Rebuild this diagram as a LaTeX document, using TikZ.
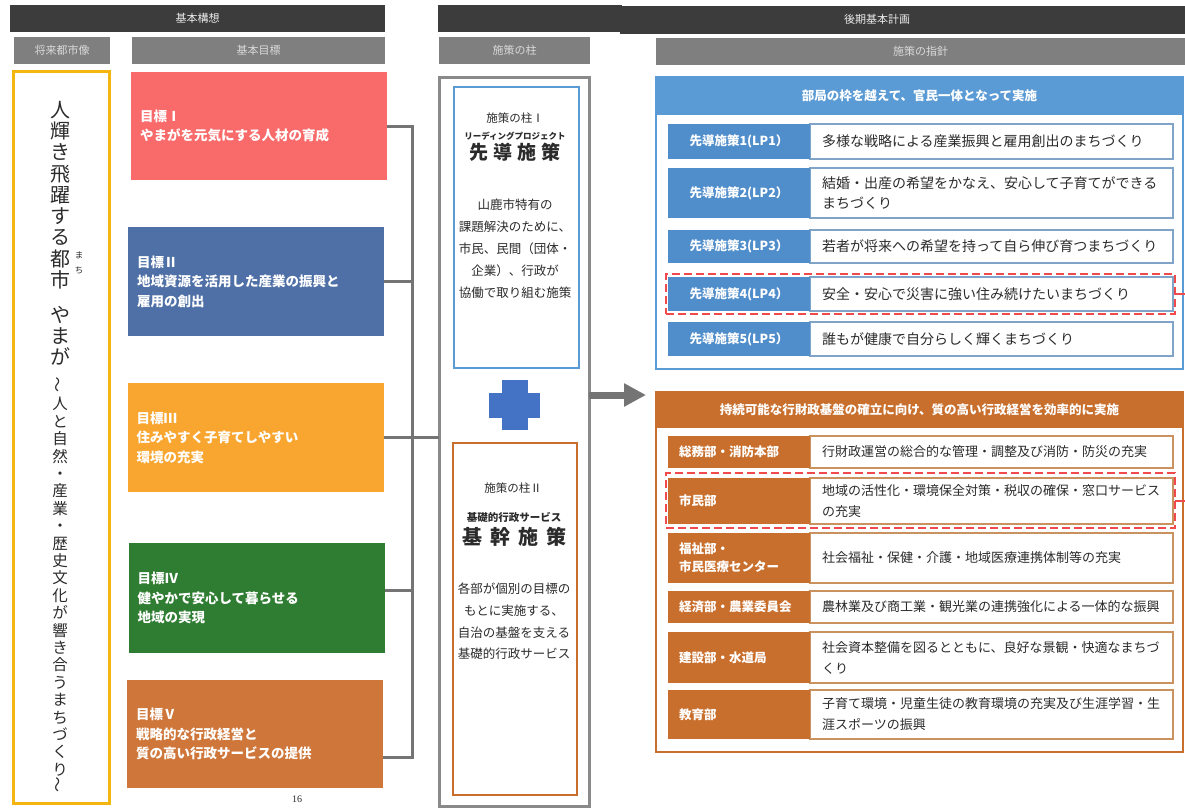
\documentclass[tikz,border=0pt]{standalone}
\usepackage{fontspec}
\setmainfont{Noto Sans CJK JP}
\newfontfamily\serf{Liberation Serif}
\usetikzlibrary{arrows.meta}
\definecolor{darkbar}{HTML}{3C3C3C}
\definecolor{midgray}{HTML}{7F7F7F}
\definecolor{subtext}{HTML}{D9D9D9}
\definecolor{yframe}{HTML}{F5B50F}
\definecolor{gA}{HTML}{F96B6B}
\definecolor{gB}{HTML}{4E70A6}
\definecolor{gC}{HTML}{F9A630}
\definecolor{gD}{HTML}{2F7D32}
\definecolor{gE}{HTML}{CF773A}
\definecolor{conngray}{HTML}{747474}
\definecolor{pillargray}{HTML}{8A8A8A}
\definecolor{bframe}{HTML}{5B9BD5}
\definecolor{blabel}{HTML}{4F8DCB}
\definecolor{browline}{HTML}{7FA4C8}
\definecolor{oframe}{HTML}{C96F2D}
\definecolor{orowline}{HTML}{C9925F}
\definecolor{plusblue}{HTML}{4472C4}
\definecolor{hired}{HTML}{F04A4C}
\definecolor{txt}{HTML}{2B2B2B}
\tikzset{
  hdr/.style={fill=darkbar, text=white!92!black, font=\fontsize{11}{13}\selectfont, minimum height=27pt},
  subhdr/.style={fill=midgray, text=subtext, font=\fontsize{11}{13}\selectfont, minimum height=27pt},
  goalbox/.style={text=white, font=\bfseries\fontsize{13.5}{19.5}\selectfont, align=left, text width=238pt, inner xsep=9pt},
  conn/.style={draw=conngray, line width=3pt},
  vtxt/.style={anchor=north, align=center, text=txt},
  pillartxt/.style={text=txt, align=center},
  blab/.style={fill=blabel, text=white, font=\bfseries\fontsize{12.5}{15}\selectfont, minimum width=142pt, align=center},
  btxt/.style={draw=browline, line width=1.2pt, fill=white, text=txt, font=\fontsize{14}{20}\selectfont, align=left, text width=339pt, inner xsep=12pt, minimum width=363pt},
  olab/.style={fill=oframe, text=white, font=\bfseries\fontsize{12.5}{18}\selectfont, minimum width=142pt, text width=120pt, inner xsep=11pt, align=left},
  otxt/.style={draw=orowline, line width=1.2pt, fill=white, text=txt, font=\fontsize{13}{21}\selectfont, align=left, text width=339pt, inner xsep=12pt, minimum width=363pt},
  hilite/.style={draw=hired, line width=2.5pt, dash pattern=on 8pt off 4pt, minimum width=509pt},
  redstub/.style={draw=hired, line width=2pt},
  bigarrow/.style={draw=conngray, line width=7pt, -{Triangle[length=22pt,width=22pt]}}
}
\begin{document}
\begin{tikzpicture}[x=1pt,y=-1pt,every node/.style={inner sep=0pt,outer sep=0pt}]
\fill[white] (0,0) rectangle (1185,809);
\path[use as bounding box] (0,0) rectangle (1185,809);

% top headers
\node[hdr, minimum width=375pt] (h1) at (197.5,18.5) {基本構想};
\node[subhdr, minimum width=96pt] (s1) at (62,50.5) {将来都市像};
\node[subhdr, minimum width=253pt] (s2) at (258.5,50.5) {基本目標};
\node[hdr, minimum width=184pt] (h2) at (530,18.5) {};
\node[hdr, minimum width=565pt, minimum height=28pt] (h3) at (902.5,20) {};
\node[text=white!92!black, font=\fontsize{11}{13}\selectfont] (h3t) at (877,19.5) {後期基本計画};
\node[subhdr, minimum width=151pt] (s3) at (514.5,50.5) {施策の柱};
\node[subhdr, minimum width=529pt] (s4) at (920.5,51.5) {施策の指針};

% city image frame
\node[draw=yframe, line width=3.5pt, minimum width=96pt, minimum height=732pt] (city) at (61.5,437.5) {};
\node[vtxt, font=\fontsize{20}{21.3}\selectfont] (vt1) at (60,101) {人\\輝\\き\\飛\\躍\\す\\る\\都\\市};
\node[vtxt, font=\fontsize{8.5}{15}\selectfont] (ruby) at (79,252) {ま\\ち};
\node[vtxt, font=\fontsize{20}{21.3}\selectfont] (vt2) at (60,306) {や\\ま\\が};
\node[vtxt, font=\fontsize{15.5}{17.4}\selectfont] (vt3) at (60,377) {\rotatebox{90}{〜}\\人\\と\\自\\然\\・\\産\\業\\・\\歴\\史\\文\\化\\が\\響\\き\\合\\う\\ま\\ち\\づ\\く\\り\\\rotatebox{90}{〜}};

% goals
\node[goalbox, fill=gA, minimum height=108pt] (g1) at (259,126) {目標Ⅰ\\やまがを元気にする人材の育成};
\node[goalbox, fill=gB, minimum height=109pt] (g2) at (256,281.5) {目標Ⅱ\\地域資源を活用した産業の振興と\\雇用の創出};
\node[goalbox, fill=gC, minimum height=109pt] (g3) at (255.5,437.5) {目標Ⅲ\\住みやすく子育てしやすい\\環境の充実};
\node[goalbox, fill=gD, minimum height=110pt] (g4) at (256.5,598) {目標Ⅳ\\健やかで安心して暮らせる\\地域の実現};
\node[goalbox, fill=gE, minimum height=108pt] (g5) at (255,734) {目標Ⅴ\\戦略的な行政経営と\\質の高い行政サービスの提供};

% pillars
\node[draw=pillargray, line width=3pt, minimum width=150pt, minimum height=729pt] (pillar) at (514,441.5) {};
\node[draw=bframe, line width=2pt, minimum width=125pt, minimum height=281pt] (p1) at (516.5,227.5) {};
\node[pillartxt, font=\fontsize{11.5}{13}\selectfont] (p1a) at (515,118) {施策の柱Ⅰ};
\node[pillartxt, font=\bfseries\fontsize{8.5}{10}\selectfont] (p1b) at (515,136) {リーディングプロジェクト};
\node[pillartxt, font=\bfseries\fontsize{19}{21}\selectfont] (p1c) at (515,152) {先\hspace{5pt}導\hspace{5pt}施\hspace{5pt}策};
\node[pillartxt, anchor=north, font=\fontsize{12.5}{22}\selectfont] (p1d) at (515,199) {山鹿市特有の\\課題解決のために、\\市民、民間（団体・\\企業）、行政が\\協働で取り組む施策};
\fill[plusblue] (502,380) rectangle (528,430);
\fill[plusblue] (489,393) rectangle (540,418);
\node[draw=oframe, line width=2pt, minimum width=124pt, minimum height=352pt] (p2) at (515,619) {};
\node[pillartxt, font=\fontsize{11.5}{13}\selectfont] (p2a) at (513,488) {施策の柱Ⅱ};
\node[pillartxt, font=\bfseries\fontsize{10.5}{12}\selectfont] (p2b) at (514,517) {基礎的行政サービス};
\node[pillartxt, font=\bfseries\fontsize{20}{22}\selectfont] (p2c) at (514,537) {基\hspace{8pt}幹\hspace{8pt}施\hspace{8pt}策};
\node[pillartxt, anchor=north, font=\fontsize{12.5}{21.7}\selectfont] (p2d) at (514,583) {各部が個別の目標の\\もとに実施する、\\自治の基盤を支える\\基礎的行政サービス};

% connectors
\coordinate (bt) at (412,126);
\coordinate (bb) at (412,757);
\draw[conn] (g1.east) -- (bt) -- (bb) -- (bb -| g5.east);
\draw[conn] (g2.east) -- (g2.east -| bt);
\draw[conn] (g3.east) -- (g3.east -| pillar.west);
\draw[conn] ([yshift=8pt]g4.east) -- ([yshift=8pt]g4.east -| bt);
\coordinate (aend) at (646,395);
\draw[bigarrow] (pillar.east |- aend) -- (aend);

% right: leading projects
\node[draw=bframe, line width=2.5pt, fill=white, minimum width=527pt, minimum height=292pt] (bsec) at (919.5,223) {};
\node[fill=bframe, minimum width=527pt, minimum height=38pt, text=white, font=\bfseries\fontsize{12.5}{14}\selectfont] (bhead) at (919.5,96) {部局の枠を越えて、官民一体となって実施};
\node[btxt, minimum height=35pt] (lt1) at (991.5,141.5) {多様な戦略による産業振興と雇用創出のまちづくり};
\node[blab, minimum height=35pt] (lp1) at (739,141.5) {先導施策1(LP1）};
\node[btxt, minimum height=50pt] (lt2) at (991.5,193) {結婚・出産の希望をかなえ、安心して子育てができる\\まちづくり};
\node[blab, minimum height=50pt] (lp2) at (739,193) {先導施策2(LP2）};
\node[btxt, minimum height=33pt] (lt3) at (991.5,246.5) {若者が将来への希望を持って自ら伸び育つまちづくり};
\node[blab, minimum height=33pt] (lp3) at (739,246.5) {先導施策3(LP3）};
\node[btxt, minimum height=34pt] (lt4) at (991.5,294) {安全・安心で災害に強い住み続けたいまちづくり};
\node[blab, minimum height=34pt] (lp4) at (739,294) {先導施策4(LP4）};
\node[btxt, minimum height=34pt] (lt5) at (991.5,339) {誰もが健康で自分らしく輝くまちづくり};
\node[blab, minimum height=34pt] (lp5) at (739,339) {先導施策5(LP5）};
\node[hilite, minimum height=40pt] (hl1) at (920.5,294) {};
\coordinate (r1) at (1185,294);
\draw[redstub] (hl1.east) -- (r1);

% right: basic measures
\node[draw=oframe, line width=2.5pt, fill=white, minimum width=527pt, minimum height=360pt] (osec) at (919.5,572) {};
\node[fill=oframe, minimum width=527pt, minimum height=36pt, text=white, font=\bfseries\fontsize{12.5}{14}\selectfont] (ohead) at (919.5,410) {持続可能な行財政基盤の確立に向け、質の高い行政経営を効率的に実施};
\node[otxt, minimum height=32pt] (ot1) at (991.5,452) {行財政運営の総合的な管理・調整及び消防・防災の充実};
\node[olab, minimum height=32pt] (ol1) at (739,452) {総務部・消防本部};
\node[otxt, minimum height=46pt] (ot2) at (991.5,501) {地域の活性化・環境保全対策・税収の確保・窓口サービス\\の充実};
\node[olab, minimum height=46pt] (ol2) at (739,501) {市民部};
\node[otxt, minimum height=50pt] (ot3) at (991.5,558) {社会福祉・保健・介護・地域医療連携体制等の充実};
\node[olab, minimum height=50pt] (ol3) at (739,558) {福祉部・\\市民医療センター};
\node[otxt, minimum height=32pt] (ot4) at (991.5,607) {農林業及び商工業・観光業の連携強化による一体的な振興};
\node[olab, minimum height=32pt] (ol4) at (739,607) {経済部・農業委員会};
\node[otxt, minimum height=51pt] (ot5) at (991.5,657.5) {社会資本整備を図るとともに、良好な景観・快適なまちづ\\くり};
\node[olab, minimum height=51pt] (ol5) at (739,657.5) {建設部・水道局};
\node[otxt, minimum height=49pt] (ot6) at (991.5,714.5) {子育て環境・児童生徒の教育環境の充実及び生涯学習・生\\涯スポーツの振興};
\node[olab, minimum height=49pt] (ol6) at (739,714.5) {教育部};
\node[hilite, minimum height=55pt] (hl2) at (920.5,500.5) {};
\coordinate (r2) at (1185,500.5);
\draw[redstub] (hl2.east) -- (r2);

\node[font=\serf\fontsize{10}{12}\selectfont, text=txt] (pg) at (297,799) {16};
\end{tikzpicture}
\end{document}
